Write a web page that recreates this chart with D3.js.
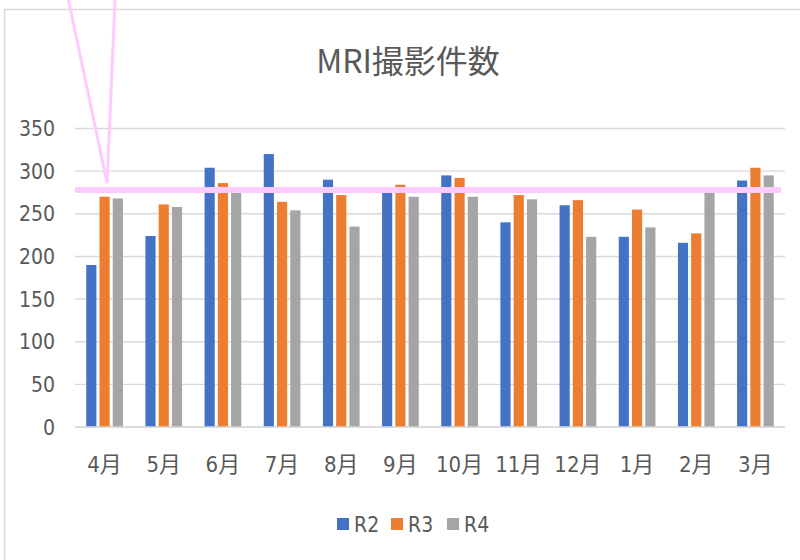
<!DOCTYPE html>
<html><head><meta charset="utf-8">
<script src="https://cdn.jsdelivr.net/npm/d3@7"></script>
<style>
html,body{margin:0;padding:0;background:#fff;}
svg{display:block;}
</style></head>
<body>
<svg id="chart" width="800" height="560"></svg>
<script>
const months = ["4月","5月","6月","7月","8月","9月","10月","11月","12月","1月","2月","3月"];
const seriesNames = ["R2","R3","R4"];
const r2 = [190, 224, 304, 320, 290, 276, 295, 240, 260, 223, 216, 289];
const r3 = [270, 261, 286, 264, 272, 284, 292, 272, 266, 255, 227, 304];
const r4 = [268, 258, 276, 254, 235, 270, 270, 267, 223, 234, 276, 295];
const colors = ["#4472C4", "#ED7D31", "#A5A5A5"];
const yTicks = [0, 50, 100, 150, 200, 250, 300, 350];
const titleText = "MRI撮影件数";
const markLineValue = 278;   // pink highlight line
const pointerTipValue = 286; // tip of the pink V pointer

const seriesValues = [r2, r3, r4];
const svg = d3.select("#chart");
const fontNarrow = "'Liberation Sans Narrow','DejaVu Sans Condensed','Noto Sans CJK JP',sans-serif";
const textColor = "#595959";

// chart frame
svg.append("rect").attr("x", 4.5).attr("y", 9.5).attr("width", 900).attr("height", 700)
  .attr("fill", "none").attr("stroke", "#D9D9D9").attr("stroke-width", 1.5);

const plot = {left: 75, right: 785, top: 128.5, bottom: 427};
const y = d3.scaleLinear().domain([0, 350]).range([plot.bottom, plot.top]);
const x0 = d3.scaleBand().domain(months).range([plot.left, plot.right]).paddingInner(0.38).paddingOuter(0.19);
const x1 = d3.scaleBand().domain(seriesNames).range([0, x0.bandwidth()]).paddingInner(0.233);

// gridlines
svg.append("g").selectAll("line").data(yTicks).join("line")
  .attr("x1", plot.left).attr("x2", plot.right)
  .attr("y1", d => y(d)).attr("y2", d => y(d))
  .attr("stroke", "#D9D9D9").attr("stroke-width", 1.4);

// y labels
svg.append("g").selectAll("text").data(yTicks).join("text")
  .attr("x", 55).attr("y", d => y(d)).attr("dy", "0.36em")
  .attr("text-anchor", "end").attr("fill", textColor)
  .style("font-family", fontNarrow).style("font-size", "21px")
  .text(d => d);

// bars
const rows = [];
months.forEach((m, i) => seriesNames.forEach((s, j) => rows.push({m, s, j, v: seriesValues[j][i]})));
svg.append("g").selectAll("rect").data(rows).join("rect")
  .attr("x", d => x0(d.m) + x1(d.s))
  .attr("y", d => y(d.v))
  .attr("width", x1.bandwidth())
  .attr("height", d => y(0) - y(d.v))
  .attr("fill", d => colors[d.j]);

// baseline
svg.append("line").attr("x1", plot.left).attr("x2", plot.right)
  .attr("y1", y(0)).attr("y2", y(0)).attr("stroke", "#D9D9D9").attr("stroke-width", 1.6);

// x labels
svg.append("g").selectAll("text").data(months).join("text")
  .attr("x", d => x0(d) + x0.bandwidth() / 2).attr("y", 464).attr("dy", "0.36em")
  .attr("text-anchor", "middle").attr("fill", textColor)
  .style("font-family", fontNarrow).style("font-size", "22px")
  .text(d => d);

// title
svg.append("text").attr("x", 408).attr("y", 61).attr("dy", "0.36em")
  .attr("text-anchor", "middle").attr("fill", textColor)
  .style("font-family", "'Noto Sans CJK JP',sans-serif").style("font-size", "32px")
  .text(titleText);

// legend
const legend = svg.append("g");
const legendX = [337, 391, 447];
seriesNames.forEach((s, j) => {
  legend.append("rect").attr("x", legendX[j]).attr("y", 518).attr("width", 12).attr("height", 12).attr("fill", colors[j]);
  legend.append("text").attr("x", legendX[j] + 17).attr("y", 524).attr("dy", "0.36em")
    .attr("fill", textColor).style("font-family", fontNarrow).style("font-size", "21px").text(s);
});

// pink annotation: horizontal highlight line
const pink = "#FDCBFD";
svg.append("line").attr("x1", plot.left).attr("x2", 781)
  .attr("y1", y(markLineValue)).attr("y2", y(markLineValue))
  .attr("stroke", pink).attr("stroke-width", 6);

// pink V pointer
const tipX = x0("4月") + x0.bandwidth() / 2 + 2.5;
const tipY = y(pointerTipValue);
svg.append("path")
  .attr("d", `M${tipX - 39},-2 L${tipX},${tipY} L${tipX + 8},-2`)
  .attr("fill", "none").attr("stroke", pink).attr("stroke-width", 3).attr("stroke-linejoin", "miter");
</script>
</body></html>
